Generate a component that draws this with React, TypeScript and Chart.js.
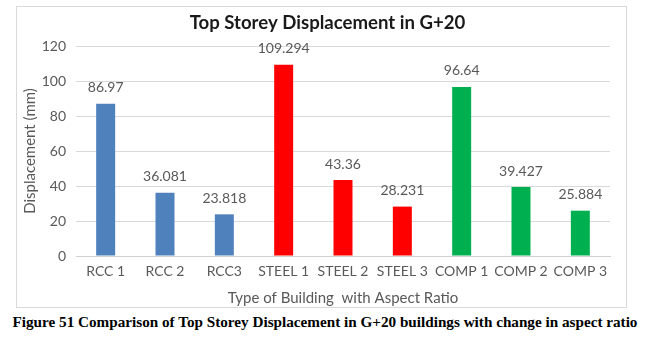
import React, { useEffect, useRef } from "react";
import { Chart, registerables } from "chart.js";

Chart.register(...registerables);

const categories = ["RCC 1", "RCC 2", "RCC3", "STEEL 1", "STEEL 2", "STEEL 3", "COMP 1", "COMP 2", "COMP 3"];
const values = [86.97, 36.081, 23.818, 109.294, 43.36, 28.231, 96.64, 39.427, 25.884];
const valueLabels = ["86.97", "36.081", "23.818", "109.294", "43.36", "28.231", "96.64", "39.427", "25.884"];
const barColors = ["#4F81BD", "#4F81BD", "#4F81BD", "#FF0000", "#FF0000", "#FF0000", "#00B050", "#00B050", "#00B050"];
const chartTitle = "Top Storey Displacement in G+20";

const FONT = "Lato, 'Open Sans', sans-serif";

const labelPlugin = {
  id: "valueLabels",
  afterDatasetsDraw(chart: any) {
    const ctx = chart.ctx;
    const meta = chart.getDatasetMeta(0);
    ctx.save();
    ctx.font = `14px ${FONT}`;
    ctx.fillStyle = "#595959";
    ctx.textAlign = "center";
    ctx.textBaseline = "middle";
    meta.data.forEach((bar: any, i: number) => {
      ctx.fillText(valueLabels[i], bar.x, bar.y - 16);
    });
    ctx.restore();
  },
};

const titlePlugin = {
  id: "customTitle",
  afterDraw(chart: any) {
    const ctx = chart.ctx;
    ctx.save();
    ctx.font = `bold 18.6px ${FONT}`;
    ctx.fillStyle = "#1a1a1a";
    ctx.textAlign = "center";
    ctx.textBaseline = "middle";
    ctx.fillText(chartTitle, chart.width / 2 + 6, 16);
    ctx.restore();
  },
};

export default function App() {
  const ref = useRef<HTMLCanvasElement>(null);
  useEffect(() => {
    if (!ref.current) return;
    const chart = new Chart(ref.current, {
      type: "bar",
      data: {
        labels: categories,
        datasets: [
          {
            data: values,
            backgroundColor: barColors,
            borderWidth: 0,
            barPercentage: 0.32,
            categoryPercentage: 1,
          },
        ],
      },
      options: {
        animation: false,
        responsive: false,
        maintainAspectRatio: false,
        layout: { padding: { left: 4, right: 16, top: 39, bottom: 0 } },
        plugins: {
          legend: { display: false },
          tooltip: { enabled: false },
          title: { display: false },
        },
        scales: {
          x: {
            grid: { display: false, drawTicks: false },
            border: { display: true, color: "#d0d0d0" },
            ticks: { color: "#595959", font: { family: FONT, size: 14 }, padding: 7, maxRotation: 0, autoSkip: false },
            title: {
              display: true,
              text: "Type of Building  with Aspect Ratio",
              color: "#595959",
              font: { family: FONT, size: 15 },
              padding: { top: 3, bottom: 0 },
            },
            afterFit: (s: any) => {
              s.height = 51;
            },
          },
          y: {
            min: 0,
            max: 120,
            ticks: { stepSize: 20, color: "#595959", font: { family: FONT, size: 14 }, padding: 10 },
            grid: { color: "#d9d9d9", drawTicks: false },
            border: { display: false },
            title: {
              display: true,
              text: "Displacement (mm)",
              color: "#595959",
              font: { family: FONT, size: 15 },
              padding: { top: 0, bottom: 4 },
            },
            afterFit: (s: any) => {
              s.width = 55;
            },
          },
        },
      },
      plugins: [labelPlugin, titlePlugin],
    });
    return () => chart.destroy();
  }, []);

  return (
    <div style={{ position: "absolute", left: 0, top: 0, width: 650, height: 354, background: "#fff", overflow: "hidden" }}>
      <div
        style={{
          position: "absolute",
          left: 16,
          top: 6,
          width: 611,
          height: 302,
          border: "1px solid #d9d9d9",
          boxSizing: "border-box",
        }}
      >
        <canvas ref={ref} width={609} height={300} style={{ display: "block" }} />
      </div>
      <div
        style={{
          position: "absolute",
          left: 0,
          top: 313,
          width: 650,
          textAlign: "center",
          fontFamily: "'Liberation Serif', 'Times New Roman', serif",
          fontWeight: "bold",
          fontSize: 15.2,
          color: "#000",
          whiteSpace: "nowrap",
        }}
      >
        Figure 51 Comparison of Top Storey Displacement in G+20 buildings with change in aspect ratio
      </div>
    </div>
  );
}
